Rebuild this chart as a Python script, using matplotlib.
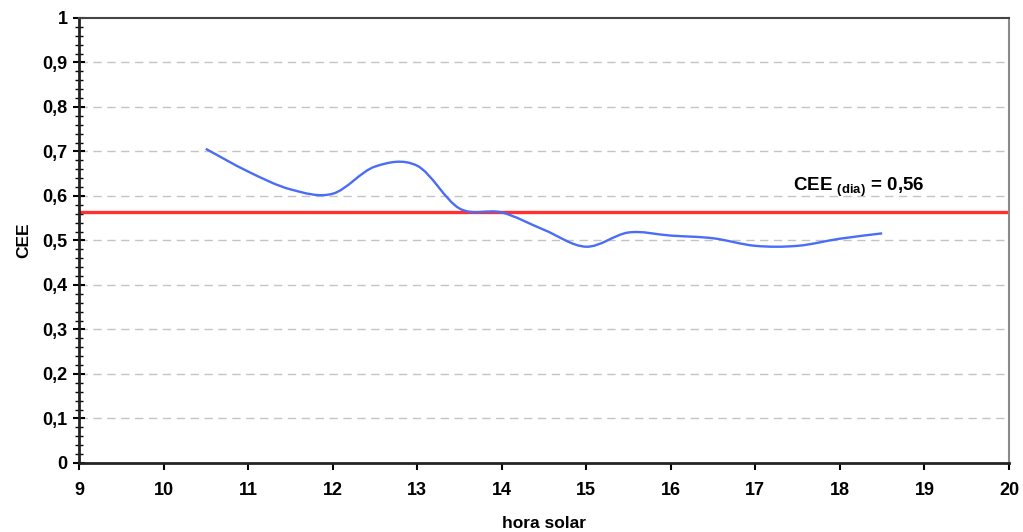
import numpy as np
import matplotlib.pyplot as plt
from matplotlib.path import Path
from matplotlib.patches import PathPatch
from matplotlib.ticker import MultipleLocator, FuncFormatter

plt.rcParams['font.family'] = ['Liberation Sans', 'DejaVu Sans']
plt.rcParams['mathtext.fontset'] = 'custom'
plt.rcParams['mathtext.bf'] = 'Liberation Sans:bold'
plt.rcParams['mathtext.rm'] = 'Liberation Sans:bold'

# hora solar x CEE
hora = [10.5, 11, 11.5, 12, 12.5, 13, 13.5, 14, 14.5, 15, 15.5, 16, 16.5, 17, 17.5, 18, 18.5]
cee = [0.706, 0.655, 0.615, 0.605, 0.666, 0.668, 0.572, 0.563, 0.524, 0.486,
       0.518, 0.511, 0.505, 0.488, 0.488, 0.504, 0.516]
cee_dia = 0.565
texto_dia = 'CEE $_{\\mathbf{(dia)}}$ = 0,56'


def curva_suave(x, y):
    # linha suavizada tipo Excel: bezier cubica com tangentes de Catmull-Rom
    pts = np.column_stack([x, y])
    n = len(pts)
    verts = [pts[0]]
    codes = [Path.MOVETO]
    for i in range(n - 1):
        p0 = pts[max(i - 1, 0)]
        p1 = pts[i]
        p2 = pts[i + 1]
        p3 = pts[min(i + 2, n - 1)]
        c1 = p1 + (p2 - p0) / 6
        c2 = p2 - (p3 - p1) / 6
        verts += [c1, c2, p2]
        codes += [Path.CURVE4] * 3
    return Path(verts, codes)


fig = plt.figure(figsize=(10.23, 5.32), dpi=100)
ax = fig.add_axes([0.0772, 0.1297, 0.9091, 0.8365])

ax.set_xlim(9, 20)
ax.set_ylim(0, 1)

for v in np.arange(0.1, 0.95, 0.1):
    ax.axhline(v, color='#c4c4c4', lw=1, ls=(0, (6, 4)), zorder=1)

ax.axhline(cee_dia, color='#ff3030', lw=2.4, zorder=2)

ax.add_patch(PathPatch(curva_suave(hora, cee), facecolor='none',
                       edgecolor='#4a6cf7', lw=1.7, zorder=3))

ax.text(17.45, 0.612, texto_dia, fontsize=13.5, fontweight='bold', va='baseline')

ax.xaxis.set_major_locator(MultipleLocator(1))
ax.yaxis.set_major_locator(MultipleLocator(0.1))
ax.yaxis.set_minor_locator(MultipleLocator(0.02))
fmt = FuncFormatter(lambda v, p: ('%g' % round(v, 2)).replace('.', ','))
ax.yaxis.set_major_formatter(fmt)

ax.tick_params(axis='x', direction='out', length=5, width=1.5, labelsize=13, pad=9)
ax.tick_params(axis='y', which='major', direction='inout', length=8, width=1.5,
               labelsize=13, pad=4)
ax.tick_params(axis='y', which='minor', direction='inout', length=6, width=1)
for lab in ax.get_xticklabels() + ax.get_yticklabels():
    lab.set_fontweight('bold')

for s in ['left', 'bottom']:
    ax.spines[s].set_linewidth(2)
    ax.spines[s].set_color('#222222')
ax.spines['top'].set_linewidth(1.5)
ax.spines['top'].set_color('#444444')
ax.spines['right'].set_linewidth(1.5)
ax.spines['right'].set_color('#8a8a8a')

ax.set_xlabel('hora solar', fontsize=12.5, fontweight='bold', labelpad=12)
ax.set_ylabel('CEE', fontsize=12.5, fontweight='bold', labelpad=8)

fig.savefig('out.png', dpi=100)
